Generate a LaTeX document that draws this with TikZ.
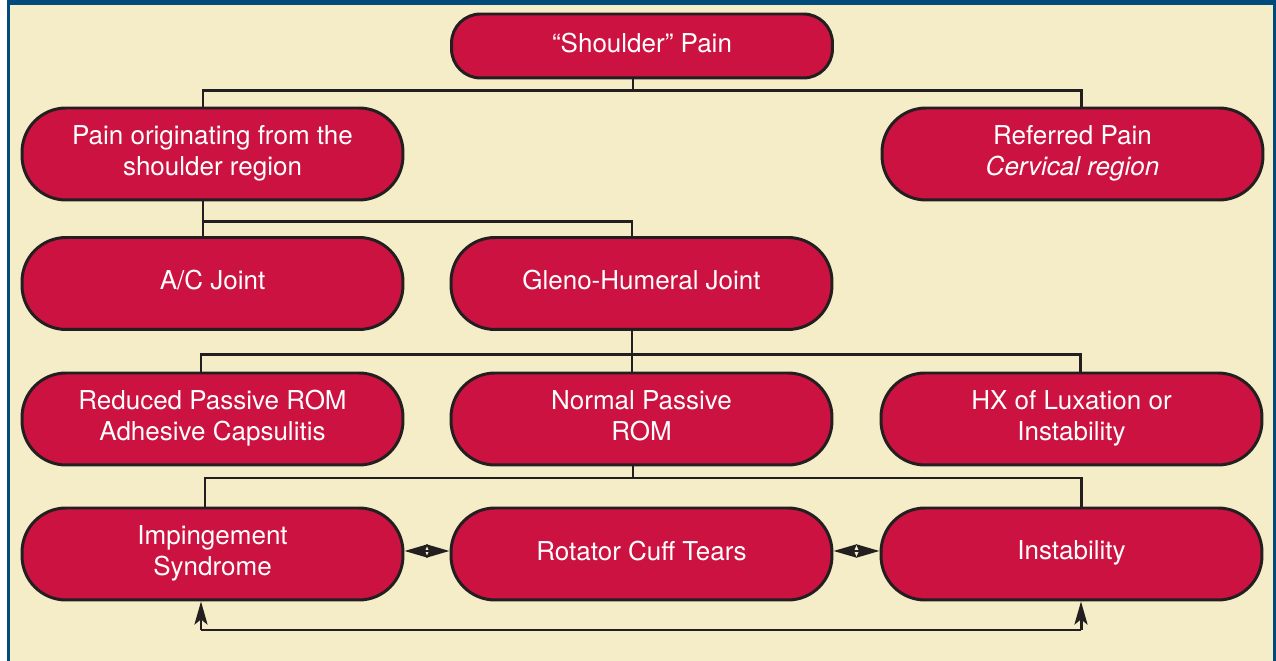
\documentclass[tikz,border=0pt]{standalone}
\usepackage{fontspec}
\setmainfont{TeX Gyre Heros}
\usetikzlibrary{arrows.meta}
\definecolor{crim}{RGB}{204, 18, 64}
\definecolor{cream}{RGB}{245, 237, 199}
\definecolor{navy}{RGB}{0, 74, 124}
\definecolor{ink}{RGB}{35, 31, 32}

\tikzset{
  box/.style={draw=ink, line width=1.7pt, fill=crim, text=white,
    rounded corners=0.88cm, minimum width=7.62cm, minimum height=1.84cm,
    align=center, inner sep=2pt,
    font=\fontsize{14.8}{17.6}\selectfont,
    execute at end node={\rule[-4pt]{0pt}{4pt}}},
  topbox/.style={box, minimum height=1.28cm, rounded corners=0.58cm},
  link/.style={draw=ink, line width=1.7pt},
  both/.style={link, {Stealth[length=0.46cm,width=0.26cm,inset=0.05cm]}-{Stealth[length=0.46cm,width=0.26cm,inset=0.05cm]}},
  up/.style={link, -{Stealth[length=0.46cm,width=0.26cm,inset=0.1cm]}}
}

\begin{document}
\begin{tikzpicture}[x=0.02cm, y=-0.02cm]
	% Fondo y marco
	\useasboundingbox (0,0) rectangle (1276,661);
	\fill[cream] (7,0) rectangle (1276,661);
	\fill[navy] (7,0) rectangle (1276,5);
	\fill[navy] (7,0) rectangle (10,661);
	\fill[navy] (1273,0) rectangle (1276,661);

	% Cajas
	\node[topbox] (top) at (642,46) {“Shoulder” Pain};
	\node[box] (orig) at (212.5,154) {Pain originating from the\\shoulder region};
	\node[box] (refer) at (1072.5,154) {Referred Pain\\\textit{Cervical region}};
	\node[box] (ac) at (212.5,283.5) {A/C Joint};
	\node[box] (gh) at (641.5,283.5) {Gleno-Humeral Joint};
	\node[box] (reduced) at (212.5,419) {Reduced Passive ROM\\Adhesive Capsulitis};
	\node[box] (normal) at (641.5,419) {Normal Passive\\ROM};
	\node[box] (hx) at (1071.5,419) {HX of Luxation or\\Instability};
	\node[box] (imping) at (212.5,554) {Impingement\\Syndrome};
	\node[box] (rotator) at (641.5,554) {Rotator Cuff Tears};
	\node[box] (instab) at (1071.5,554) {Instability};

	% Ramas
	\coordinate (j1) at (633,91);
	\draw[link] (top.south -| j1) -- (j1);
	\draw[link] (orig.north -| 203,0) |- (j1) -| (refer.north -| 1081,0);

	\coordinate (j2) at (203,222);
	\draw[link] (orig.south -| j2) -- (ac.north -| j2);
	\draw[link] (j2) -| (gh.north -| 632,0);

	\coordinate (j3) at (632,355);
	\draw[link] (gh.south -| j3) -- (normal.north -| j3);
	\draw[link] (reduced.north -| 201,0) |- (j3) -| (hx.north -| 1080,0);

	\coordinate (j4) at (633,478);
	\draw[link] (normal.south -| j4) -- (j4);
	\draw[link] (imping.north -| 205,0) |- (j4) -| (instab.north -| 1081,0);

	% Relaciones entre diagnosticos
	\draw[both] ([yshift=0.06cm]imping.east) -- ([yshift=0.06cm]rotator.west);
	\draw[both] ([yshift=0.06cm]rotator.east) -- ([yshift=0.06cm]instab.west);
	\coordinate (b1) at (201,630);
	\coordinate (b2) at (1081,630);
	\draw[up] (b1) -- (imping.south -| b1);
	\draw[up] (b2) -- (instab.south -| b2);
	\draw[link] (b1) -- (b2);
\end{tikzpicture}
\end{document}
